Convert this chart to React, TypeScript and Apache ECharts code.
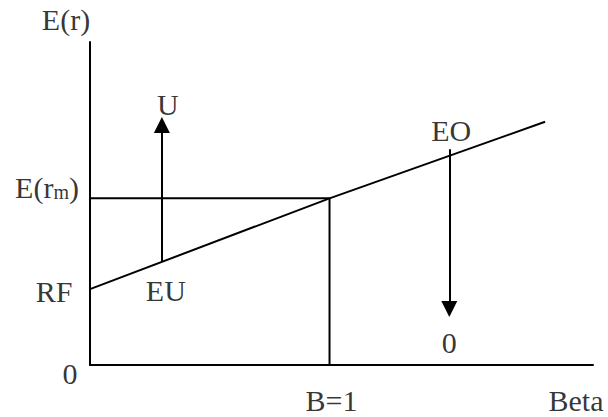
import React, { useEffect, useRef } from "react";
import * as echarts from "echarts";

// Axis extents (beta on x, expected return on y)
const betaMax = 2.1;
const returnMax = 10;

// Security market line points [beta, E(r)]
const smlBeta = [0, 1, 1.9];
const smlReturn = [2.35, 5.16, 7.53];

// Market portfolio guide lines (E(rm) level and B=1 drop)
const marketBeta = [0, 1, 1];
const marketReturn = [5.16, 5.16, 0];

// Arrows: [beta, from E(r), to E(r)]
const arrowU = [0.3, 3.22, 7.43];
const arrowO = [1.5, 6.68, 1.73];

const FONT = "'Liberation Serif', 'Times New Roman', serif";
const FS = 30;

export default function App() {
  const ref = useRef<HTMLDivElement>(null);

  useEffect(() => {
    document.body.style.margin = "0";
    if (!ref.current) return;
    const chart = echarts.init(ref.current, undefined, { renderer: "svg" });

    const lbl = (
      name: string,
      value: number[],
      offset: number[],
      formatter?: string
    ) => ({
      name,
      value,
      label: {
        show: true,
        position: "inside",
        offset,
        formatter: formatter ?? name,
      },
    });

    const labels = [
      lbl("E(r)", [0, returnMax], [-24, -23]),
      lbl("E(rm)", [0, marketReturn[0]], [-43, -11], "{a|E(r}{b|m}{a|)}"),
      lbl("RF", [0, smlReturn[0]], [-36, 2]),
      lbl("0", [0, 0], [-20, 8]),
      lbl("EU", [arrowU[0], arrowU[1]], [4, 30]),
      lbl("U", [arrowU[0], arrowU[2]], [6, -21]),
      lbl("EO", [arrowO[0], arrowO[1]], [2, -19]),
      lbl("0", [arrowO[0], arrowO[2]], [0, 33]),
      lbl("B=1", [1, 0], [2, 35]),
      lbl("Beta", [betaMax, 0], [-17, 35]),
    ];

    chart.setOption({
      animation: false,
      backgroundColor: "#fff",
      grid: { left: 90, right: 15, top: 42, bottom: 52 },
      xAxis: {
        type: "value",
        min: 0,
        max: betaMax,
        axisLine: { show: true, lineStyle: { color: "#000", width: 2 } },
        axisTick: { show: false },
        axisLabel: { show: false },
        splitLine: { show: false },
      },
      yAxis: {
        type: "value",
        min: 0,
        max: returnMax,
        axisLine: { show: true, lineStyle: { color: "#000", width: 2 } },
        axisTick: { show: false },
        axisLabel: { show: false },
        splitLine: { show: false },
      },
      series: [
        {
          type: "line",
          name: "SML",
          data: smlBeta.map((b, i) => [b, smlReturn[i]]),
          symbol: "none",
          lineStyle: { color: "#000", width: 2 },
          silent: true,
        },
        {
          type: "line",
          name: "Market",
          data: marketBeta.map((b, i) => [b, marketReturn[i]]),
          symbol: "none",
          lineStyle: { color: "#000", width: 2 },
          silent: true,
        },
        {
          type: "lines",
          coordinateSystem: "cartesian2d",
          symbol: ["none", "triangle"],
          symbolSize: [14, 16],
          lineStyle: { color: "#000", width: 2, opacity: 1 },
          itemStyle: { color: "#000" },
          silent: true,
          data: [
            { coords: [[arrowU[0], arrowU[1]], [arrowU[0], arrowU[2]]] },
            { coords: [[arrowO[0], arrowO[1]], [arrowO[0], arrowO[2]]] },
          ],
        },
        {
          type: "scatter",
          name: "labels",
          symbolSize: 0,
          silent: true,
          label: {
            color: "#000",
            fontFamily: FONT,
            fontSize: FS,
            lineHeight: 26,
            align: "center",
            verticalAlign: "middle",
            rich: {
              a: { fontFamily: FONT, fontSize: FS, color: "#000", lineHeight: 26 },
              b: {
                fontFamily: FONT,
                fontSize: 20,
                color: "#000",
                lineHeight: 26,
                padding: [10, 0, 0, 0],
              },
            },
          },
          data: labels,
        },
      ],
    });

    return () => chart.dispose();
  }, []);

  return <div ref={ref} style={{ width: 608, height: 417 }} />;
}
